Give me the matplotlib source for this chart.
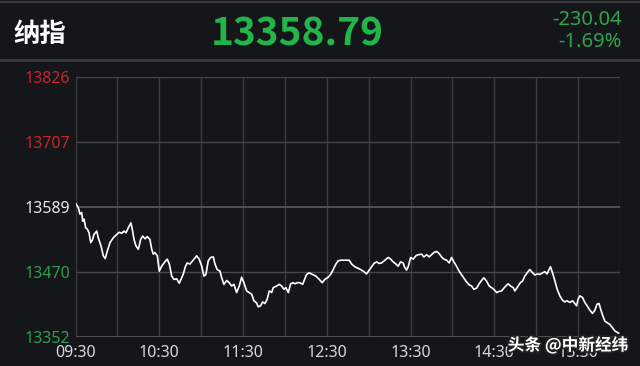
import matplotlib
matplotlib.use("Agg")
import matplotlib.pyplot as plt
from matplotlib.lines import Line2D
import matplotlib.patheffects as pe

# ---- data (minutes after 09:30, index level) ----
minutes = [0, 2.0, 3.2, 4.4, 5.2, 6.1, 7.3, 8.4, 9.7, 10.9, 12.3, 13.2, 15.2, 16.3, 18.3, 19.9,
           21.3, 22.8, 24.7, 27.1, 29.5, 31.4, 33.1, 34.7, 36.2, 37.8, 39.7, 40.7, 41.9, 43.3,
           45.0, 46.7, 48.1, 49.8, 51.4, 53.3, 54.6, 55.7, 56.9, 58.6, 60.0, 61.7, 63.4, 65.7,
           67.2, 68.9, 70.5, 72.5, 74.3, 77.1, 78.8, 80.0, 82.0, 83.9, 86.8, 88.6, 90.4, 92.0,
           93.4, 95.1, 96.8, 98.7, 99.9, 101.5, 103.5, 104.7, 106.3, 108.3, 110.1, 111.8, 113.5,
           115.4, 117.3, 119.0, 120.6, 122.6, 124.4, 126.2, 127.8, 129.7, 130.9, 132.6, 134.0,
           135.7, 137.3, 138.8, 140.5, 141.6, 144.1, 145.9, 147.6, 149.3, 150.7, 152.4, 154.1,
           155.9, 157.2, 158.8, 160.7, 162.7, 163.6, 165.5, 167.4, 169.8, 172.2, 174.6, 176.7,
           178.6, 181.0, 182.7, 184.6, 186.5, 188.2, 189.9, 194.2, 196.0, 197.8, 200.1, 202.5,
           204.2, 206.1, 208.5, 210.4, 212.1, 213.7, 215.7, 217.5, 219.2, 221.6, 224.0, 225.7,
           227.5, 229.5, 231.1, 232.8, 234.7, 235.6, 237.1, 238.3, 240.0, 241.9, 243.8, 245.4,
           247.9, 249.5, 251.5, 253.3, 255.0, 256.7, 258.6, 260.5, 262.2, 263.8, 265.8, 267.6,
           269.4, 271.0, 272.9, 274.8, 277.2, 279.6, 282.0, 283.7, 285.3, 287.3, 289.1, 290.8,
           292.5, 294.4, 296.3, 298.0, 299.6, 301.6, 303.4, 305.2, 306.8, 308.2, 309.9, 311.6,
           313.5, 314.7, 316.3, 318.6, 320.2, 321.8, 323.5, 325.4, 327.4, 329.0, 330.7, 332.6,
           334.5, 336.2, 337.8, 339.2, 340.2, 341.7, 343.4, 345.0, 346.9, 348.8, 350.5, 352.1,
           354.1, 356.0, 357.6, 358.9, 360.0, 361.2, 363.2, 364.8, 366.4, 368.4, 370.3, 372.0,
           373.6, 375.0, 376.0, 377.5, 379.1, 380.8, 382.7, 384.6, 386.3, 389.0]
prices = [13596, 13588, 13576, 13579, 13563, 13567, 13551, 13549, 13542, 13524, 13530, 13539,
          13545, 13533, 13518, 13500, 13495, 13509, 13524, 13533, 13539, 13543, 13541, 13545,
          13542, 13551, 13560, 13548, 13530, 13518, 13512, 13530, 13536, 13531, 13535, 13530,
          13512, 13503, 13506, 13500, 13472, 13481, 13487, 13494, 13485, 13463, 13457, 13458,
          13450, 13466, 13481, 13487, 13485, 13491, 13500, 13494, 13481, 13463, 13466, 13491,
          13497, 13498, 13485, 13475, 13472, 13460, 13448, 13455, 13451, 13445, 13448, 13433,
          13445, 13461, 13451, 13436, 13433, 13430, 13418, 13414, 13407, 13409, 13416, 13413,
          13421, 13436, 13433, 13442, 13445, 13448, 13445, 13439, 13442, 13433, 13449, 13451,
          13449, 13451, 13451, 13448, 13454, 13466, 13469, 13466, 13463, 13457, 13451, 13457,
          13461, 13466, 13475, 13485, 13491, 13492, 13492, 13492, 13485, 13480, 13477, 13475,
          13472, 13467, 13474, 13480, 13486, 13489, 13486, 13487, 13492, 13497, 13494, 13489,
          13485, 13481, 13489, 13487, 13480, 13474, 13480, 13497, 13494, 13500, 13502, 13503,
          13498, 13502, 13498, 13502, 13506, 13508, 13504, 13498, 13494, 13492, 13487, 13497,
          13489, 13481, 13472, 13463, 13454, 13447, 13445, 13439, 13441, 13449, 13455, 13460,
          13454, 13445, 13442, 13439, 13433, 13435, 13436, 13441, 13445, 13449, 13445, 13442,
          13436, 13442, 13451, 13454, 13463, 13469, 13475, 13469, 13465, 13467, 13466, 13469,
          13471, 13467, 13475, 13480, 13469, 13454, 13439, 13427, 13419, 13416, 13418, 13415,
          13418, 13413, 13409, 13421, 13427, 13424, 13415, 13409, 13401, 13395, 13401, 13412,
          13413, 13404, 13392, 13381, 13378, 13375, 13369, 13363, 13359]

y_ticks = [13352, 13470, 13589, 13707, 13826]
y_tick_colors = ["#2f9e4c", "#2f9e4c", "#e8e8e8", "#c8262c", "#c8262c"]
x_ticks = [0, 60, 120, 180, 240, 300, 360]
x_tick_labels = ["09:30", "10:30", "11:30", "12:30", "13:30", "14:30", "15:30"]
grid_minutes = list(range(0, 391, 30))

title = "纳指"
last_price = "13358.79"
change = "-230.04"
change_pct = "-1.69%"
watermark = "头条 @中新经纬"

BG = "#15161a"
fig = plt.figure(figsize=(6.4, 3.66), dpi=100, facecolor=BG)

# header separators
fig.add_artist(Line2D([0, 1], [1 - 1.5 / 366, 1 - 1.5 / 366], color="#3a3b3f", lw=1.5))
fig.add_artist(Line2D([0, 1], [1 - 60 / 366, 1 - 60 / 366], color="#3a3b3f", lw=2))

fig.text(13 / 640, 1 - 35 / 366, title, color="white", fontsize=19, fontweight="bold",
         family=["Noto Sans CJK SC", "DejaVu Sans"], va="center", ha="left")
fig.text(297 / 640, 1 - 34 / 366, last_price, color="#22b549", fontsize=28, fontweight="bold",
         family=["Noto Sans CJK SC", "DejaVu Sans"], va="center", ha="center")
fig.text(622 / 640, 1 - 20 / 366, change, color="#2fa34f", fontsize=14.5,
         family=["Noto Sans", "DejaVu Sans"], va="center", ha="right")
fig.text(622 / 640, 1 - 42 / 366, change_pct, color="#2fa34f", fontsize=14.5,
         family=["Noto Sans", "DejaVu Sans"], va="center", ha="right")

ax = fig.add_axes([75.5 / 640, 1 - 337 / 366, (620 - 75.5) / 640, (337 - 77) / 366])
ax.set_facecolor(BG)
ax.set_xlim(0, 390)
ax.set_ylim(y_ticks[0], y_ticks[-1])

for m in grid_minutes:
    ax.axvline(m, color="#3b3c40", lw=1, zorder=1)
for v in y_ticks:
    c = "#55565a" if v in (y_ticks[0], y_ticks[2]) else "#46474b"
    ax.axhline(v, color=c, lw=1.3 if v in (y_ticks[0], y_ticks[2]) else 1, zorder=1)

ax.plot(minutes, prices, color="white", lw=1.2, zorder=3)

for s in ax.spines.values():
    s.set_visible(False)

ax.set_yticks(y_ticks)
ax.set_yticklabels([str(v) for v in y_ticks], family=["Noto Sans", "DejaVu Sans"], fontsize=11.5)
for lbl, c in zip(ax.get_yticklabels(), y_tick_colors):
    lbl.set_color(c)
ax.set_xticks(x_ticks)
ax.set_xticklabels(x_tick_labels, family=["Noto Sans", "DejaVu Sans"], fontsize=11.5, color="#d8d8d8")
ax.tick_params(axis="x", length=0, pad=6)
ax.tick_params(axis="y", length=0, pad=4)

fig.text(628 / 640, 1 - 345 / 366, watermark, color="white", fontsize=12, fontweight="bold",
         family=["Noto Sans CJK SC", "DejaVu Sans"], va="center", ha="right",
         path_effects=[pe.withStroke(linewidth=2.5, foreground="#222222")])

fig.savefig("out.png", dpi=100, facecolor=BG)
